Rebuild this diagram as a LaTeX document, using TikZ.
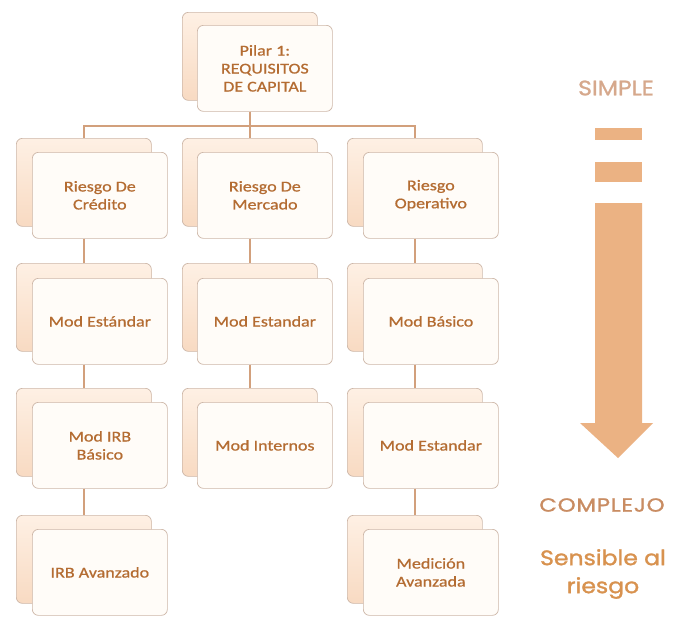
\documentclass[tikz,border=0pt]{standalone}
\usepackage{fontspec}
\setmainfont{Carlito}
\newfontfamily\cardfont[FakeStretch=1.2,FakeBold=0.8]{Carlito}
\newfontfamily\simplefont[FakeStretch=1.12,FakeBold=1.2]{Poppins}
\newfontfamily\complexfont[FakeStretch=1.2,FakeBold=1.4,LetterSpace=4]{Poppins}
\newfontfamily\sensefont[FakeStretch=1.12,FakeBold=1.4]{Poppins}
\definecolor{cardtext}{HTML}{B46C32}
\definecolor{cardline}{HTML}{CDB7A8}
\definecolor{cardfront}{HTML}{FFFCF8}
\definecolor{backtop}{HTML}{FEF0E4}
\definecolor{backbot}{HTML}{F8DAC2}
\definecolor{linkcol}{HTML}{D2A07C}
\definecolor{arrowcol}{HTML}{EBB283}
\definecolor{simplecol}{HTML}{D6A88C}
\definecolor{complexcol}{HTML}{C98C62}
\definecolor{sensecol}{HTML}{D8924F}
\tikzset{
  backcard/.style={draw=cardline, line width=0.7pt, rounded corners=6pt,
    top color=backtop, bottom color=backbot,
    minimum width=135pt, minimum height=88pt, anchor=north west, inner sep=0pt},
  frontcard/.style={draw=cardline, line width=0.7pt, rounded corners=6pt,
    fill=cardfront, minimum width=135pt, minimum height=86pt, anchor=north west,
    inner sep=2pt, align=center, text=cardtext,
    font=\cardfont\fontsize{15}{18}\selectfont},
  link/.style={draw=linkcol, line width=2.4pt},
  scalelabel/.style={inner sep=0pt, align=center}
}
\begin{document}
\begin{tikzpicture}[x=1pt,y=-1pt]
\useasboundingbox (0,0) rectangle (679,616);
\fill[white] (0,0) rectangle (679,616);

% back cards
\node[backcard] (topb) at (182,12) {};
\node[backcard] (c1b) at (16,138) {};
\node[backcard] (c2b) at (182,138) {};
\node[backcard] (c3b) at (347,138) {};
\node[backcard] (a2b) at (16,263) {};
\node[backcard] (b2b) at (182,263) {};
\node[backcard] (o2b) at (347,263) {};
\node[backcard] (a3b) at (16,388) {};
\node[backcard] (b3b) at (182,388) {};
\node[backcard] (o3b) at (347,388) {};
\node[backcard] (a4b) at (16,515) {};
\node[backcard] (o4b) at (347,515) {};

% front cards with the labels
\node[frontcard] (top) at (197,25) {Pilar 1:\\REQUISITOS\\DE CAPITAL};
\node[frontcard] (c1) at (32,152) {Riesgo De\\Crédito};
\node[frontcard] (c2) at (197,152) {Riesgo De\\Mercado};
\node[frontcard] (c3) at (363,152) {Riesgo\\Operativo};
\node[frontcard] (a2) at (32,278) {Mod Estándar};
\node[frontcard] (b2) at (197,278) {Mod Estandar};
\node[frontcard] (o2) at (363,278) {Mod Básico};
\node[frontcard] (a3) at (32,402) {Mod IRB\\Básico};
\node[frontcard] (b3) at (197,402) {Mod Internos};
\node[frontcard] (o3) at (363,402) {Mod Estandar};
\node[frontcard] (a4) at (32,529) {IRB Avanzado};
\node[frontcard] (o4) at (363,529) {Medición\\Avanzada};

% connectors
\draw[link] (topb.south |- top.south) -- ++(0,14) -| (c1b.north);
\draw[link] (topb.south |- top.south) -- ++(0,14) -| (c2b.north);
\draw[link] (topb.south |- top.south) -- ++(0,14) -| (c3b.north);
\draw[link] (c1b.south |- c1.south) -- (a2b.north);
\draw[link] (c2b.south |- c2.south) -- (b2b.north);
\draw[link] (c3b.south |- c3.south) -- (o2b.north);
\draw[link] (a2b.south |- a2.south) -- (a3b.north);
\draw[link] (b2b.south |- b2.south) -- (b3b.north);
\draw[link] (o2b.south |- o2.south) -- (o3b.north);
\draw[link] (a3b.south |- a3.south) -- (a4b.north);
\draw[link] (o3b.south |- o3.south) -- (o4b.north);

% scale of complexity
\node[scalelabel, text=simplecol, font=\simplefont\fontsize{21}{22}\selectfont] (simple) at (616,88) {SIMPLE};
\fill[arrowcol] (595,128) rectangle (642,140);
\fill[arrowcol] (595,162) rectangle (642,182);
\fill[arrowcol] (595,203) -- (642,203) -- (642,423) -- (653,423) -- (618,458)
  -- (580,423) -- (595,423) -- cycle;
\node[scalelabel, text=complexcol, font=\complexfont\fontsize{19}{20}\selectfont] (complex) at (602,505) {COMPLEJO};
\node[scalelabel, text=sensecol, font=\sensefont\fontsize{21}{28}\selectfont] (sense) at (603,574) {Sensible al\\riesgo};
\end{tikzpicture}
\end{document}
